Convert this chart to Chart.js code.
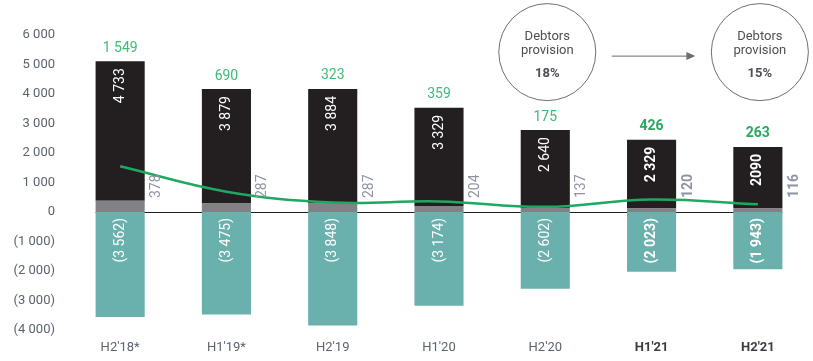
<!DOCTYPE html>
<html><head><meta charset="utf-8">
<script src="https://cdn.jsdelivr.net/npm/chart.js@4/dist/chart.umd.min.js"></script>
<style>html,body{margin:0;padding:0;background:#fff}#w{width:813px;height:361px}</style>
</head><body><div id="w"><canvas id="c" width="813" height="361"></canvas></div>
<script>
const categories = ["H2'18*", "H1'19*", "H2'19", "H1'20", "H2'20", "H1'21", "H2'21"];
const provision = [378, 287, 287, 204, 137, 120, 116];
const gross = [4733, 3879, 3884, 3329, 2640, 2329, 2090];
const grossText = ["4 733", "3 879", "3 884", "3 329", "2 640", "2 329", "2090"];
const payables = [-3562, -3475, -3848, -3174, -2602, -2023, -1943];
const netLine = [1549, 690, 323, 359, 175, 426, 263];
const boldIdx = [5, 6];
const yTicks = [6000, 5000, 4000, 3000, 2000, 1000, 0, -1000, -2000, -3000, -4000];
const circleTexts = [["Debtors", "provision", "18%"], ["Debtors", "provision", "15%"]];
const circleCats = [4, 6];

const FONT = "Roboto, 'DejaVu Sans', sans-serif";
function fmt(v){const a=Math.abs(v);let s=a>=1000?Math.floor(a/1000)+' '+String(a%1000).padStart(3,'0'):String(a);return v<0?'('+s+')':s;}

const plug = {
  id:'custom',
  beforeDatasetsDraw(chart){
    const {ctx, scales:{y}} = chart;
    const m = chart.getDatasetMeta(1);
    const b0 = m.data[0], bn = m.data[m.data.length-1];
    const y0 = Math.round(y.getPixelForValue(0))+0.5;
    ctx.save();ctx.strokeStyle='#231f20';ctx.lineWidth=1.2;
    ctx.beginPath();ctx.moveTo(b0.x-b0.width/2,y0);ctx.lineTo(bn.x+bn.width/2,y0);ctx.stroke();ctx.restore();
  },
  afterDatasetsDraw(chart){
    const {ctx, scales:{x,y}} = chart;
    const mB = chart.getDatasetMeta(2), mT = chart.getDatasetMeta(3);
    const y0 = y.getPixelForValue(0);
    ctx.save();
    categories.forEach((c,i)=>{
      const bold = boldIdx.includes(i);
      const w = bold?'bold ':'';
      const bb = mB.data[i];
      // black label
      ctx.save();ctx.translate(bb.x, bb.y+7);ctx.rotate(-Math.PI/2);
      ctx.font = w+'14px '+FONT;ctx.fillStyle='#ffffff';ctx.textAlign='right';ctx.textBaseline='middle';
      ctx.fillText(grossText[i],0,0);ctx.restore();
      // teal label
      const tb = mT.data[i];
      ctx.save();ctx.translate(tb.x, y0+6);ctx.rotate(-Math.PI/2);
      ctx.font = w+'14px '+FONT;ctx.fillStyle='#ffffff';ctx.textAlign='right';ctx.textBaseline='middle';
      ctx.fillText(fmt(payables[i]),0,0);ctx.restore();
      // gray label
      ctx.save();ctx.translate(bb.x+bb.width/2+12, y0-14);ctx.rotate(-Math.PI/2);
      ctx.font = w+'14px '+FONT;ctx.fillStyle='#8d94a0';ctx.textAlign='left';ctx.textBaseline='middle';
      ctx.fillText(fmt(provision[i]),0,0);ctx.restore();
      // green label
      ctx.font = w+'14px '+FONT;ctx.fillStyle=bold?'#27a95f':'#3dbb78';ctx.textAlign='center';ctx.textBaseline='middle';
      ctx.fillText(fmt(netLine[i]), bb.x, bb.y-13);
    });
    // circles
    const cy = y.getPixelForValue(5420);
    const r = 48.5;
    circleCats.forEach((ci,k)=>{
      const cx = x.getPixelForValue(ci)+2;
      ctx.beginPath();ctx.arc(cx,cy,r,0,Math.PI*2);ctx.strokeStyle='#6d6e71';ctx.lineWidth=1;ctx.stroke();
      ctx.fillStyle='#4d4f55';ctx.textAlign='center';ctx.textBaseline='middle';
      ctx.font='13px '+FONT;
      ctx.fillText(circleTexts[k][0],cx,cy-15);
      ctx.fillText(circleTexts[k][1],cx,cy-1);
      ctx.font='bold 13px '+FONT;
      ctx.fillText(circleTexts[k][2],cx,cy+22);
    });
    // arrow
    const ax1 = x.getPixelForValue(circleCats[0])+2+r+16, ax2 = x.getPixelForValue(circleCats[1])+2-r-18;
    const ay = cy+4;
    ctx.strokeStyle='#6d6e71';ctx.lineWidth=1;ctx.beginPath();ctx.moveTo(ax1,ay);ctx.lineTo(ax2,ay);ctx.stroke();
    ctx.fillStyle='#6d6e71';ctx.beginPath();ctx.moveTo(ax2+2,ay);ctx.lineTo(ax2-7,ay-4);ctx.lineTo(ax2-7,ay+4);ctx.closePath();ctx.fill();
    ctx.restore();
  }
};

new Chart(document.getElementById('c'), {
  data:{
    labels: categories,
    datasets:[
      {type:'line', label:'net', data: netLine, borderColor:'#1fa862', borderWidth:2.5, pointRadius:0, tension:0.4, order:0},
      {type:'bar', label:'prov', data: provision, backgroundColor:'#808285', stack:'s', order:1},
      {type:'bar', label:'gross', data: gross, backgroundColor:'#231f20', stack:'s', order:1},
      {type:'bar', label:'pay', data: payables, backgroundColor:'#6ab1ae', stack:'s', order:1}
    ]
  },
  options:{
    responsive:false, animation:false,
    layout:{padding:{top:35,right:2,left:0,bottom:0}},
    plugins:{legend:{display:false}, tooltip:{enabled:false}},
    datasets:{bar:{categoryPercentage:1, barPercentage:0.462}},
    scales:{
      x:{stacked:true, grid:{display:false, drawTicks:false}, border:{display:false},
         ticks:{padding:10, color:(c)=>boldIdx.includes(c.index)?'#3a3c42':'#5c6370', font:(c)=>({family:FONT,size:13,weight:boldIdx.includes(c.index)?'bold':'normal'})},
         afterFit(s){s.height=31;}},
      y:{stacked:true, min:-4000, max:6000, grid:{display:false, drawTicks:false}, border:{display:false},
         afterBuildTicks(s){s.ticks = yTicks.map(v=>({value:v}));},
         ticks:{padding:12, color:'#5c6370', font:{family:FONT,size:13}, callback:(v)=>fmt(v)},
         afterFit(s){s.width=67;}}
    }
  },
  plugins:[plug]
});
</script></body></html>
